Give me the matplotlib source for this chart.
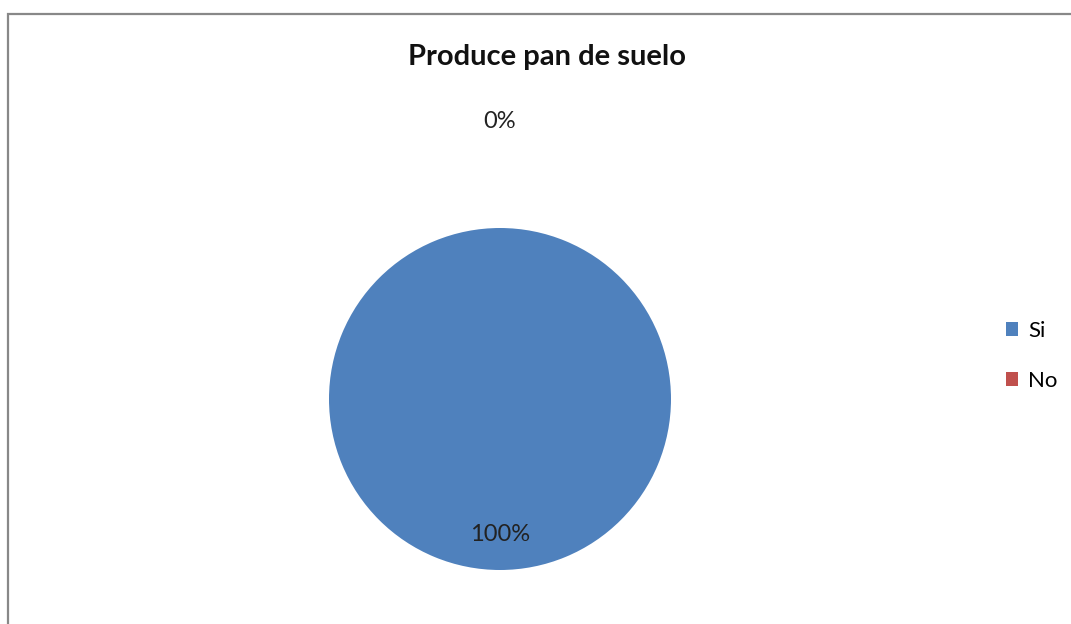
import matplotlib.pyplot as plt
from matplotlib.patches import Rectangle
import numpy as np

plt.rcParams['font.family'] = ['Lato', 'DejaVu Sans']

labels = ["Si", "No"]
values = [100, 0]
colors = ["#4F81BD", "#C0504D"]
title = "Produce pan de suelo"

W, H = 1071, 624
fig = plt.figure(figsize=(W / 100, H / 100), dpi=100)

# chart area border (runs off the right and bottom edges)
fig.patches.append(Rectangle((8 / W, -0.1), 1.2, (H - 14) / H + 0.1,
                             transform=fig.transFigure, fill=False,
                             edgecolor="#888888", lw=1.6))

cx, cy, r = 500, 399, 171
ax = fig.add_axes([(cx - r) / W, (H - cy - r) / H, 2 * r / W, 2 * r / H])
wedges, _ = ax.pie(values, colors=colors, startangle=90, counterclock=False,
                   radius=1, wedgeprops=dict(edgecolor="none"))
ax.set_xlim(-1, 1)
ax.set_ylim(-1, 1)
ax.axis("off")

# percentage labels, placed along each wedge's mid angle
label_dist = [0.79, 1.62]
total = sum(values)
for w, v, d in zip(wedges, values, label_dist):
    ang = np.deg2rad((w.theta1 + w.theta2) / 2)
    ax.text(d * np.cos(ang), d * np.sin(ang), f"{v / total:.0%}",
            ha="center", va="center", fontsize=17, color="#222222")

fig.text(547 / W, 1 - 57 / H, title, ha="center", va="center",
         fontsize=21, fontweight="bold", color="#111111")

fig.legend(wedges, labels, loc="center left",
           bbox_to_anchor=(986 / W, 1 - 356 / H), frameon=False,
           fontsize=16, handlelength=0.55, handleheight=0.55,
           handletextpad=0.45, labelspacing=1.35)

fig.savefig("out.png", dpi=100)
